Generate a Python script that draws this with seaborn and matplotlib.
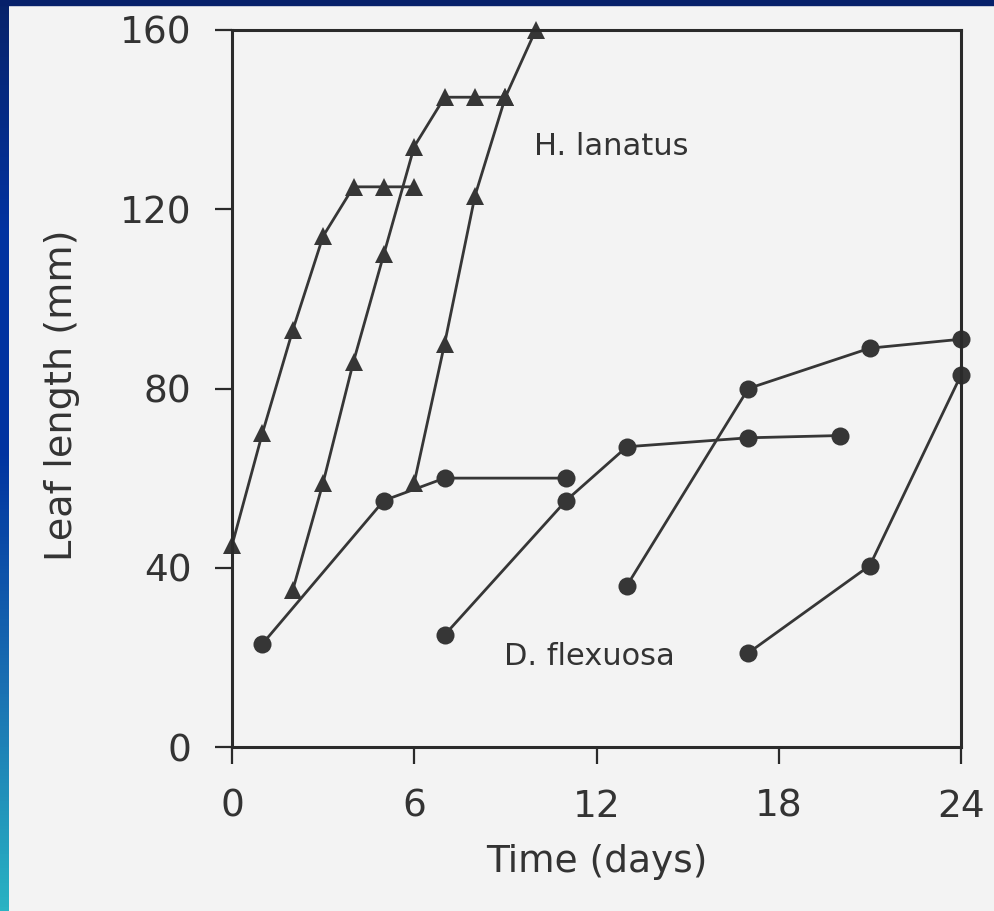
import numpy as np
import pandas as pd
import matplotlib
matplotlib.use("Agg")
import matplotlib.pyplot as plt
from matplotlib.colors import LinearSegmentedColormap
from matplotlib.patches import Rectangle
import seaborn as sns

# Leaf elongation over time: successive leaves of two grass species
h_leaf_a_days = [0, 1, 2, 3, 4, 5, 6]
h_leaf_a_len = [45, 70, 93, 114, 125, 125, 125]
h_leaf_b_days = [2, 3, 4, 5, 6, 7, 8, 9]
h_leaf_b_len = [35, 59, 86, 110, 134, 145, 145, 145]
h_leaf_c_days = [6, 7, 8, 9, 10]
h_leaf_c_len = [59, 90, 123, 145, 160]

d_leaf_a_days = [1, 5, 7, 11]
d_leaf_a_len = [23, 55, 60, 60]
d_leaf_b_days = [7, 11, 13, 17, 20]
d_leaf_b_len = [25, 55, 67, 69, 69.5]
d_leaf_c_days = [13, 17, 21, 24]
d_leaf_c_len = [36, 80, 89, 91]
d_leaf_d_days = [17, 21, 24]
d_leaf_d_len = [21, 40.5, 83]

x_ticks = [0, 6, 12, 18, 24]
y_ticks = [0, 40, 80, 120, 160]


def leaves(species, series):
    rows = []
    for i, (days, lengths) in enumerate(series):
        for d, v in zip(days, lengths):
            rows.append({"species": species, "leaf": f"{species}-{i}", "day": d, "length": v})
    return pd.DataFrame(rows)


h_df = leaves("H. lanatus", [(h_leaf_a_days, h_leaf_a_len),
                             (h_leaf_b_days, h_leaf_b_len),
                             (h_leaf_c_days, h_leaf_c_len)])
d_df = leaves("D. flexuosa", [(d_leaf_a_days, d_leaf_a_len),
                              (d_leaf_b_days, d_leaf_b_len),
                              (d_leaf_c_days, d_leaf_c_len),
                              (d_leaf_d_days, d_leaf_d_len)])

sns.set_theme(style="ticks")
plt.rcParams["font.family"] = ["DejaVu Sans"]

paper = "#f3f3f3"
ink = "#363636"
text_col = "#333333"

fig = plt.figure(figsize=(9.94, 9.11), dpi=100, facecolor=paper)
ax = fig.add_axes([232 / 994, 1 - 747 / 911, (961 - 232) / 994, (747 - 30) / 911])
ax.set_facecolor(paper)

common = dict(x="day", y="length", units="leaf", estimator=None, sort=False,
              color=ink, linewidth=2.0, ax=ax, legend=False)
sns.lineplot(data=h_df, marker="^", markersize=13.5, markeredgewidth=0,
             clip_on=False, **common)
sns.lineplot(data=d_df, marker="o", markersize=13, markeredgewidth=0,
             clip_on=False, **common)

ax.set_xlim(0, 24)
ax.set_ylim(0, 160)
ax.set_xticks(x_ticks)
ax.set_yticks(y_ticks)
ax.set_xticklabels([str(t) for t in x_ticks])
ax.set_yticklabels([str(t) for t in y_ticks])

for side in ["left", "right", "top", "bottom"]:
    ax.spines[side].set_visible(True)
    ax.spines[side].set_color("#2a2a2a")
    ax.spines[side].set_linewidth(2.2)

ax.tick_params(axis="both", direction="out", length=12, width=1.6,
               color="#2a2a2a", labelsize=27, labelcolor=text_col)
ax.tick_params(axis="y", pad=17)
ax.tick_params(axis="x", pad=18)
ax.xaxis.set_ticks_position("bottom")
ax.yaxis.set_ticks_position("left")

ax.set_xlabel("Time (days)", fontsize=27, color=text_col)
ax.set_ylabel("Leaf length (mm)", fontsize=27.5, color=text_col)
ax.xaxis.set_label_coords(0.5, -0.135)
ax.yaxis.set_label_coords(-0.208, 0.49)

ax.text(9.95, 132, "H. lanatus", fontsize=22, color=text_col, va="baseline", ha="left")
ax.text(8.95, 18.3, "D. flexuosa", fontsize=22, color=text_col, va="baseline", ha="left")

# slide frame: gradient strip on the left and a bar across the top
strip = fig.add_axes([0, 0, 9 / 994, 1])
grad = LinearSegmentedColormap.from_list(
    "slide", ["#2ab3c3", "#1a6fb2", "#0134a0", "#0233a0", "#08236a"])
strip.imshow(np.linspace(0, 1, 256).reshape(-1, 1), aspect="auto", cmap=grad,
             origin="lower", extent=[0, 1, 0, 1])
strip.set_axis_off()
fig.add_artist(Rectangle((0, 1 - 5 / 911), 1, 5 / 911, transform=fig.transFigure,
                         color="#06206a", zorder=10))

fig.savefig("out.png", dpi=100, facecolor=paper)
